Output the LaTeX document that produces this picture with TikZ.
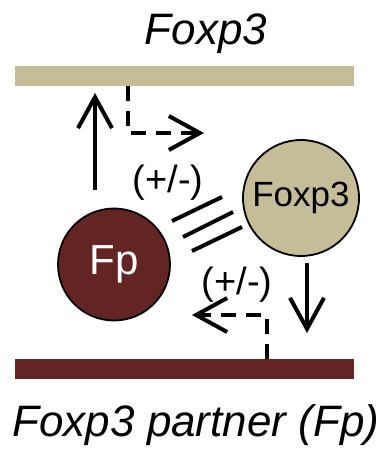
\documentclass[tikz,border=0pt]{standalone}
\usepackage{fontspec}
\setmainfont{Liberation Sans}
\usepackage{tikz}
\usetikzlibrary{arrows.meta}
\definecolor{tan}{HTML}{C4BD97}
\definecolor{darkred}{HTML}{632523}
\tikzset{
  vee/.style={-{Straight Barb[length=31pt,width=34pt,line width=4pt]}},
  prot/.style={circle,draw=black,line width=1.8pt,inner sep=0pt},
}
\begin{document}
\begin{tikzpicture}[x=1pt,y=1pt]
\useasboundingbox (0,0) rectangle (388,451);
%gene
\fill[tan] (15,365) rectangle (354,385);
\fill[darkred] (15,72) rectangle (354,92);
\node[anchor=base] (gtop) at (206,406) {\fontsize{44}{50}\selectfont\itshape Foxp3};
\node[anchor=base] (gbot) at (196,14) {\fontsize{44}{50}\selectfont\itshape Foxp3 partner (Fp)};
%protein
\node[prot,fill=tan,minimum size=116pt] (foxp) at (301,253) {\fontsize{35}{40}\selectfont Foxp3};
\node[prot,fill=darkred,minimum size=112pt,text=white] (fp) at (114,186.5) {\fontsize{42}{48}\selectfont Fp};
%vertex
\coordinate (u1) at (95,261); \coordinate (u2) at (95,358);
\coordinate (d1) at (307,188); \coordinate (d2) at (307,118);
\coordinate (t1) at (128,365); \coordinate (t2) at (128,318); \coordinate (t3) at (204,318);
\coordinate (s1) at (267,92); \coordinate (s2) at (267,136); \coordinate (s3) at (192,136);
%edge
\draw[line width=4pt,vee] (u1)--(u2);
\draw[line width=4pt,vee] (d1)--(d2);
\draw[line width=4pt,dash pattern=on 15pt off 10pt,vee] (t1)--(t2)--(t3);
\draw[line width=4pt,dash pattern=on 15pt off 10pt,vee] (s1)--(s2)--(s3);
%binding
\draw[line width=4pt] (172,230)--(222,254);
\draw[line width=4pt] (183,214)--(233,239);
\draw[line width=4pt] (192,200)--(242,224);
\node (pm1) at (168,268.5) {\fontsize{38}{44}\selectfont (+/-)};
\node (pm2) at (237,166) {\fontsize{38}{44}\selectfont (+/-)};
\end{tikzpicture}
\end{document}
